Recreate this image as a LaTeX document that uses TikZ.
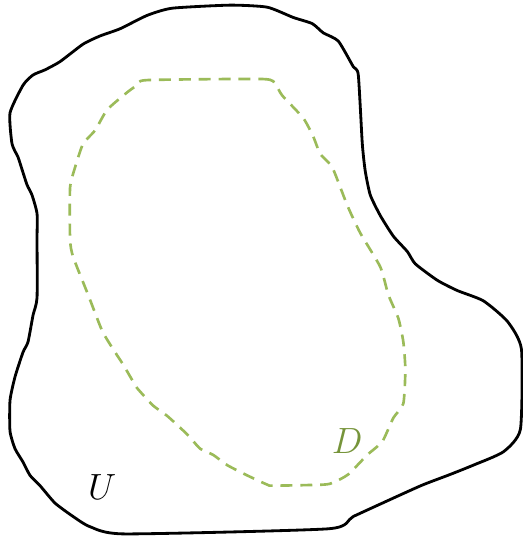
\documentclass[tikz,border=0pt]{standalone}
\usepackage{amsmath, amssymb}
\usepackage{tikz}
\usetikzlibrary{positioning}

\definecolor{domgreen}{RGB}{155,187,89}
\definecolor{labgreen}{RGB}{118,148,58}

\begin{document}
\begin{tikzpicture}[
        x=0.02cm, y=-0.02053cm,
        outer/.style={draw=black, line width=1.6pt, line join=round},
        inner/.style={draw=domgreen, line width=1.5pt, dash pattern=on 6.8pt off 4.5pt},
        lab/.style={font=\fontsize{19.5}{22}\selectfont}
    ]
        \useasboundingbox (0,0) rectangle (522,523);

        % Outer region U
        \path[outer] plot[smooth cycle, tension=0.35] coordinates {
            (23,83) (10,110) (12,140) (18,153) (22,165) (27,180) (32,190) (37,208)
            (37,233) (37,290) (33,307) (28,333) (23,343) (15,367) (10,390) (10,420)
            (15,437) (23,450) (30,463) (40,473) (55,490) (73,503) (90,513) (125,520)
            (328,515) (353,503) (400,482) (423,472) (450,462) (473,453) (503,440)
            (520,418) (521,340) (507,313) (483,293) (457,283) (437,273) (415,257)
            (407,245) (393,230) (380,210) (370,190) (365,167) (362,140) (358,73)
            (353,65) (338,40) (323,32) (312,23) (293,17) (267,7) (230,5) (172,8)
            (147,15) (120,28) (100,35) (83,43) (60,60) (45,68) (33,73)};

        % Inner region D
        \path[inner] plot[smooth cycle, tension=0.35] coordinates {
            (147,78) (263,77) (275,82) (282,93) (303,115) (313,133) (320,150)
            (332,163) (347,200) (360,227) (380,260) (388,287) (398,310) (403,333)
            (405,360) (403,393) (393,407) (382,430) (367,443) (348,462) (333,470)
            (323,472) (273,473) (267,472) (247,463) (227,453) (213,443) (200,437)
            (187,423) (167,405) (153,395) (137,378) (132,370) (123,355) (113,340)
            (102,322) (88,287) (73,250) (70,233) (70,183) (75,163) (83,140)
            (95,127) (107,107) (127,90) (137,83)};

        % Labels
        \node[lab, text=labgreen] (labD) at (347,430) {$D$};
        \node[lab] (labU) at (102,474) {$U$};
    \end{tikzpicture}
\end{document}
